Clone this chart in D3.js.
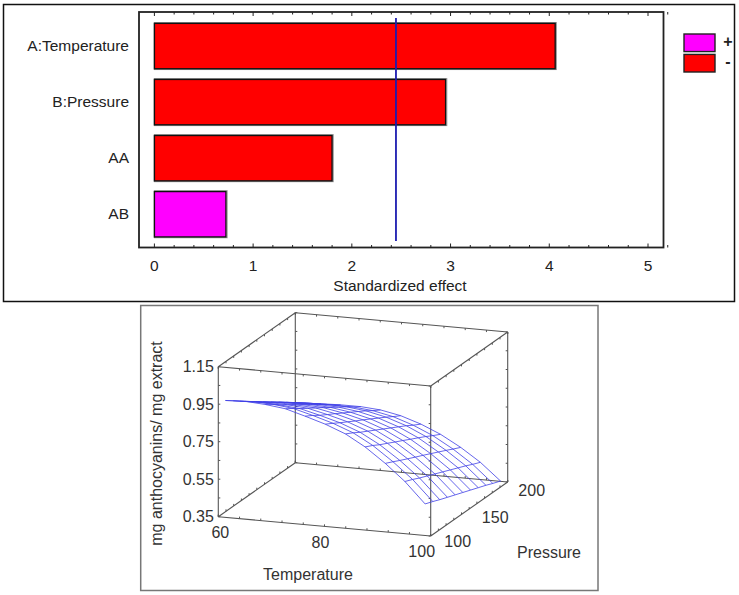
<!DOCTYPE html>
<html><head><meta charset="utf-8">
<script src="https://cdn.jsdelivr.net/npm/d3@7"></script>
<style>html,body{margin:0;padding:0;background:#fff}svg{display:block}text{font-family:"Liberation Sans",Arial,sans-serif}</style>
</head><body><div id="c"></div>
<script>
const terms = ["A:Temperature","B:Pressure","AA","AB"];
const effects = [4.06,2.95,1.80,0.725];
const signs = ["-","-","-","+"];
const critical = 2.447;
const effectTicks = [0,1,2,3,4,5];
const legendKeys = ["+","-"];

const zTicks = [0.35,0.55,0.75,0.95,1.15];
const tempTicks = [60,80,100];
const pressTicks = [100,150,200];
const tempGrid = [61.2,65,68.7,72.5,76.2,80,83.8,87.5,91.3,95,98.8];
const pressGrid = [101,111,120,130,140,150,160,170,180,189,199];
const surface = [
 [.970,.940,.911,.881,.852,.822,.792,.763,.733,.704,.674],
 [.975,.945,.916,.886,.857,.828,.798,.769,.739,.710,.680],
 [.968,.940,.911,.883,.854,.826,.798,.769,.741,.712,.684],
 [.955,.928,.901,.874,.847,.820,.792,.765,.738,.711,.684],
 [.925,.900,.875,.850,.826,.801,.776,.751,.726,.701,.676],
 [.892,.868,.845,.821,.797,.774,.750,.726,.702,.679,.655],
 [.850,.827,.804,.781,.758,.735,.712,.689,.666,.643,.620],
 [.790,.769,.747,.726,.704,.683,.661,.640,.618,.597,.575],
 [.712,.692,.673,.653,.633,.614,.594,.574,.554,.535,.515],
 [.625,.607,.589,.571,.553,.535,.517,.499,.481,.463,.445],
 [.515,.499,.483,.467,.451,.435,.419,.403,.387,.371,.355]
];

const svg = d3.select("#c").append("svg").attr("width",739).attr("height",595);
const colors = {"+":"#ff00ff","-":"#ff0000"};

// ---------- top panel ----------
svg.append("rect").attr("x",3.5).attr("y",4.5).attr("width",731).attr("height",297).attr("fill","none").attr("stroke","#111").attr("stroke-width",1.5);
const plot = {l:139,r:663.5,t:12,b:247.5};
const x = d3.scaleLinear().domain([0,5]).range([154.4,648]);
const yTerm = d3.scaleBand().domain(terms).range([18.3,242]).paddingInner(0.19).paddingOuter(0.09);

svg.selectAll(".shadow").data(terms).join("rect")
  .attr("x",x(0)).attr("y",d=>yTerm(d)-0.8)
  .attr("width",(d,i)=>x(effects[i])-x(0)+1.2).attr("height",yTerm.bandwidth()+1.6)
  .attr("fill","none").attr("stroke","#999").attr("stroke-width",1);
svg.selectAll(".bar").data(terms).join("rect")
  .attr("x",x(0)).attr("y",d=>yTerm(d))
  .attr("width",(d,i)=>x(effects[i])-x(0)).attr("height",yTerm.bandwidth())
  .attr("fill",(d,i)=>colors[signs[i]]).attr("stroke","#111").attr("stroke-width",1.4);
svg.append("line").attr("x1",x(critical)).attr("x2",x(critical)).attr("y1",18).attr("y2",241)
  .attr("stroke","#1c1cb0").attr("stroke-width",1.8);
svg.append("rect").attr("x",plot.l).attr("y",plot.t).attr("width",plot.r-plot.l).attr("height",plot.b-plot.t)
  .attr("fill","none").attr("stroke","#222").attr("stroke-width",1.8);

const minor = d3.range(0,5.21,0.2);
svg.selectAll(".tk").data(minor).join("path")
  .attr("d",d=>{const X=x(d),L=Math.abs(d-Math.round(d))<1e-6?4:2.5;
    return `M${X},${plot.b}v${-L}M${X},${plot.t}v${L}`;})
  .attr("stroke","#222").attr("stroke-width",1).attr("fill","none");
svg.selectAll(".xl").data(effectTicks).join("text")
  .attr("x",d=>x(d)).attr("y",265).attr("dy","0.36em").attr("text-anchor","middle")
  .attr("font-size",15.5).attr("fill","#222").text(d=>d);
svg.selectAll(".yl").data(terms).join("text")
  .attr("x",129).attr("y",d=>yTerm(d)+yTerm.bandwidth()/2-0.5).attr("dy","0.36em").attr("text-anchor","end")
  .attr("font-size",15.5).attr("fill","#222").text(d=>d);
svg.append("text").attr("x",400).attr("y",291).attr("dy","0.0em").attr("text-anchor","middle")
  .attr("font-size",15.5).attr("fill","#222").text("Standardized effect");

const legY = d3.scaleBand().domain(legendKeys).range([34,72]).paddingInner(0.14);
svg.selectAll(".lg").data(legendKeys).join("rect")
  .attr("x",684).attr("y",d=>legY(d)).attr("width",31).attr("height",legY.bandwidth())
  .attr("fill",d=>colors[d]).attr("stroke","#222").attr("stroke-width",1.4);
svg.selectAll(".lt").data(legendKeys).join("text")
  .attr("x",728).attr("y",d=>legY(d)+legY.bandwidth()/2-2).attr("dy","0.36em").attr("text-anchor","middle")
  .attr("font-size",16).attr("font-weight","bold").attr("fill","#222").text(d=>d);

// ---------- bottom panel ----------
svg.append("rect").attr("x",140.7).attr("y",305.5).attr("width",457.3).attr("height",285).attr("fill","none").attr("stroke","#777").attr("stroke-width",1.5);

const ox=218.3, oy=516.7;
const tX=d3.scaleLinear().domain([60,100]).range([0,212.4]);
const tY=d3.scaleLinear().domain([60,100]).range([0,19.3]);
const pX=d3.scaleLinear().domain([100,200]).range([0,77]);
const pY=d3.scaleLinear().domain([100,200]).range([0,-54]);
const zY=d3.scaleLinear().domain([0.35,1.15]).range([0,-150]);
const project=(t,p,z)=>[ox+tX(t)+pX(p), oy+tY(t)+pY(p)+zY(z)];
const line3=d3.line();
const T0=60,T1=100,P0=100,P1=200,Z0=.35,Z1=1.15;
const edges=[
 [[T0,P0,Z0],[T1,P0,Z0]],[[T0,P1,Z0],[T1,P1,Z0]],[[T0,P0,Z1],[T1,P0,Z1]],[[T0,P1,Z1],[T1,P1,Z1]],
 [[T0,P0,Z0],[T0,P1,Z0]],[[T1,P0,Z0],[T1,P1,Z0]],[[T0,P0,Z1],[T0,P1,Z1]],[[T1,P0,Z1],[T1,P1,Z1]],
 [[T0,P0,Z0],[T0,P0,Z1]],[[T1,P0,Z0],[T1,P0,Z1]],[[T0,P1,Z0],[T0,P1,Z1]],[[T1,P1,Z0],[T1,P1,Z1]]
];
const box=svg.append("g");
box.selectAll("path").data(edges).join("path")
  .attr("d",d=>line3(d.map(a=>project(...a))))
  .attr("fill","none").attr("stroke","#555").attr("stroke-width",1.1);

// ticks along the box edges
const tick=(pt,dx,dy)=>{const [a,b]=project(...pt);return `M${a},${b}l${dx},${dy}`;};
let tp="";
d3.range(60,100.1,4).forEach(t=>{[[P0,Z0],[P1,Z0],[P0,Z1],[P1,Z1]].forEach(([p,z])=>{tp+=tick([t,p,z],0,z===Z0?-2:2);});});
d3.range(100,200.1,10).forEach(p=>{[[T0,Z0],[T1,Z0],[T0,Z1],[T1,Z1]].forEach(([t,z])=>{tp+=tick([t,p,z],0,z===Z0?-2:2);});});
d3.range(.35,1.151,.1).forEach(z=>{[[T0,P0,2],[T1,P0,-2],[T0,P1,2],[T1,P1,-2]].forEach(([t,p,d])=>{tp+=tick([t,p,z],d,0);});});
box.append("path").attr("d",tp).attr("stroke","#555").attr("stroke-width",1).attr("fill","none");

// surface mesh
const mesh=svg.append("g").attr("fill","none").attr("stroke","#3f3fe6").attr("stroke-width",0.8);
pressGrid.forEach((p,j)=>{
  mesh.append("path").attr("d",line3(tempGrid.map((t,i)=>project(t,p,surface[i][j]))));
});
tempGrid.forEach((t,i)=>{
  mesh.append("path").attr("d",line3(pressGrid.map((p,j)=>project(t,p,surface[i][j]))));
});

// labels
const ink="#333";
svg.selectAll(".zl").data(zTicks).join("text")
  .attr("x",ox-4.5).attr("y",d=>oy+zY(d)).attr("dy","0.36em").attr("text-anchor","end")
  .attr("font-size",16).attr("fill",ink).text(d=>d.toFixed(2));
svg.selectAll(".tl").data(tempTicks).join("text")
  .attr("x",d=>ox+tX(d)+(d===60?2:d===80?-4:-9)).attr("y",d=>oy+tY(d)+15.5).attr("dy","0.36em").attr("text-anchor","middle")
  .attr("font-size",16).attr("fill",ink).text(d=>d);
svg.selectAll(".pl").data(pressTicks).join("text")
  .attr("x",d=>ox+tX(T1)+pX(d)+(d===100?27:d===150?26:24)).attr("y",d=>oy+tY(T1)+pY(d)+(d===100?5:8.5)).attr("dy","0.36em").attr("text-anchor","middle")
  .attr("font-size",16).attr("fill",ink).text(d=>d);
svg.append("text").attr("x",308).attr("y",574).attr("dy","0.36em").attr("text-anchor","middle").attr("font-size",16).attr("fill",ink).text("Temperature");
svg.append("text").attr("x",549).attr("y",552).attr("dy","0.36em").attr("text-anchor","middle").attr("font-size",16).attr("fill",ink).text("Pressure");
svg.append("text").attr("transform","translate(156.5,443.5) rotate(-90)").attr("dy","0.36em").attr("text-anchor","middle").attr("font-size",16).attr("fill",ink).text("mg anthocyanins/ mg extract");
</script></body></html>
